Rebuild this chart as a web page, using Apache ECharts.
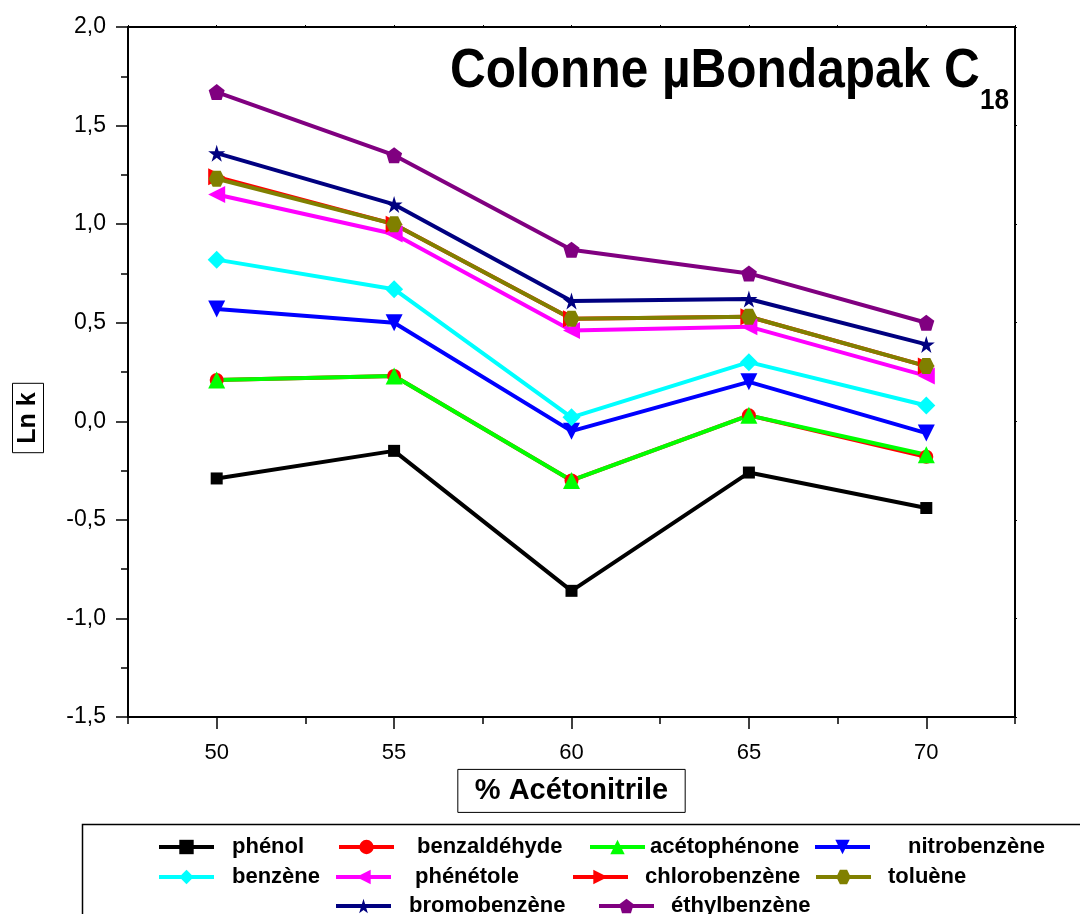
<!DOCTYPE html>
<html>
<head>
<meta charset="utf-8">
<script src="https://cdn.jsdelivr.net/npm/echarts@6/dist/echarts.min.js"></script>
<style>
  html, body { margin: 0; padding: 0; background: #fff; }
  #chart { width: 1080px; height: 914px; }
</style>
</head>
<body>
<div id="chart"></div>
<script>
const xValues = [50, 55, 60, 65, 70];

const phenol = [-0.29, -0.15, -0.86, -0.26, -0.44];
const benzaldehyde = [0.21, 0.23, -0.30, 0.03, -0.18];
const acetophenone = [0.21, 0.23, -0.30, 0.03, -0.17];
const nitrobenzene = [0.57, 0.50, -0.05, 0.20, -0.06];
const benzene = [0.82, 0.67, 0.02, 0.30, 0.08];
const phenetole = [1.15, 0.95, 0.46, 0.48, 0.23];
const chlorobenzene = [1.24, 1.00, 0.52, 0.53, 0.28];
const toluene = [1.23, 1.00, 0.52, 0.53, 0.28];
const bromobenzene = [1.36, 1.10, 0.61, 0.62, 0.39];
const ethylbenzene = [1.67, 1.35, 0.87, 0.75, 0.50];

const FONT = '"Liberation Sans", Arial, sans-serif';
const STAR = 'path://M50,0 L61,35 L98,35 L68,57 L79,91 L50,70 L21,91 L32,57 L2,35 L39,35 Z';
const PENTA = 'path://M50,0 L100,38 L81,100 L19,100 L0,38 Z';
const HEXA = 'path://M25,0 L75,0 L100,50 L75,100 L25,100 L0,50 Z';

// legend: lx = icon start, tx = text start, ly = row centre
const seriesDefs = [
  { name: 'phénol', data: phenol, color: '#000000', symbol: 'rect', size: 12, rotate: 0, lx: 157, tx: 230, ly: 845 },
  { name: 'benzaldéhyde', data: benzaldehyde, color: '#ff0000', symbol: 'circle', size: 14, rotate: 0, lx: 337, tx: 415, ly: 845 },
  { name: 'acétophénone', data: acetophenone, color: '#00ff00', symbol: 'triangle', size: 17, rotate: 0, lx: 588, tx: 647, ly: 845 },
  { name: 'nitrobenzène', data: nitrobenzene, color: '#0000ff', symbol: 'triangle', size: 17, rotate: 180, lx: 813, tx: 906, ly: 845 },
  { name: 'benzène', data: benzene, color: '#00ffff', symbol: 'diamond', size: 18, rotate: 0, lx: 157, tx: 230, ly: 875 },
  { name: 'phénétole', data: phenetole, color: '#ff00ff', symbol: 'triangle', size: 17, rotate: 90, lx: 334, tx: 413, ly: 875 },
  { name: 'chlorobenzène', data: chlorobenzene, color: '#ff0000', symbol: 'triangle', size: 17, rotate: -90, lx: 571, tx: 643, ly: 875 },
  { name: 'toluène', data: toluene, color: '#808000', symbol: HEXA, size: 16, rotate: 0, lx: 814, tx: 886, ly: 875 },
  { name: 'bromobenzène', data: bromobenzene, color: '#000080', symbol: STAR, size: 17, rotate: 0, lx: 334, tx: 407, ly: 904 },
  { name: 'éthylbenzène', data: ethylbenzene, color: '#800080', symbol: PENTA, size: 16, rotate: 0, lx: 597, tx: 669, ly: 904 }
];

const chart = echarts.init(document.getElementById('chart'), null, { renderer: 'canvas' });

const fmt = v => v.toFixed(1).replace('.', ',');
const ICON_W = 55;
const ICON_H = 18;

const option = {
  animation: false,
  backgroundColor: '#fff',
  grid: { left: 128, top: 27, right: 65, bottom: 197, containLabel: false, outerBoundsMode: 'none' },
  legend: seriesDefs.map(s => ({
    data: [s.name],
    left: s.lx,
    top: s.ly - ICON_H / 2,
    itemWidth: ICON_W,
    itemHeight: ICON_H,
    itemGap: 0,
    padding: 0,
    selectedMode: false,
    lineStyle: { width: 4 },
    textStyle: {
      fontFamily: FONT, fontWeight: 'bold', fontSize: 22, color: '#000',
      padding: [0, 0, 0, Math.max(0, s.tx - s.lx - ICON_W - 5)]
    }
  })),
  xAxis: [
    {
      type: 'value', min: 47.5, max: 72.5,
      name: '% Acétonitrile', nameLocation: 'middle', nameGap: 43,
      nameTextStyle: {
        fontFamily: FONT, fontWeight: 'bold', fontSize: 29, color: '#000',
        borderColor: '#000', borderWidth: 1, padding: [7, 17, 7, 17]
      },
      axisLine: { onZero: false, lineStyle: { color: '#000', width: 2 } },
      axisTick: { customValues: xValues, length: 12, lineStyle: { color: '#000', width: 1.5 } },
      axisLabel: { customValues: xValues, fontFamily: FONT, fontSize: 22, color: '#000', margin: 25 },
      splitLine: { show: false }
    },
    {
      type: 'value', min: 47.5, max: 72.5, interval: 2.5, position: 'bottom',
      axisLine: { show: false, onZero: false },
      axisTick: { length: 7, lineStyle: { color: '#000', width: 1.5 } },
      axisLabel: { show: false },
      splitLine: { show: false }
    },
    {
      type: 'value', min: 47.5, max: 72.5, interval: 2.5, position: 'top',
      axisLine: { onZero: false, lineStyle: { color: '#000', width: 2 } },
      axisTick: { length: 2, lineStyle: { color: '#000' } },
      axisLabel: { show: false },
      splitLine: { show: false }
    }
  ],
  yAxis: [
    {
      type: 'value', min: -1.5, max: 2, interval: 0.5,
      axisLine: { onZero: false, lineStyle: { color: '#000', width: 2 } },
      axisTick: { length: 12, lineStyle: { color: '#000', width: 1.5 } },
      minorTick: { show: true, splitNumber: 2, length: 7, lineStyle: { color: '#000', width: 1.5 } },
      axisLabel: { formatter: fmt, fontFamily: FONT, fontSize: 23, color: '#000', margin: 22 },
      splitLine: { show: false }
    },
    {
      type: 'value', min: -1.5, max: 2, interval: 0.5, position: 'right',
      axisLine: { show: true, onZero: false, lineStyle: { color: '#000', width: 2 } },
      axisTick: { show: true, length: 2, lineStyle: { color: '#000' } },
      axisLabel: { show: false },
      splitLine: { show: false }
    }
  ],
  graphic: [
    {
      type: 'text', x: 450, y: 44, scaleX: 0.885, z: 10,
      style: { text: 'Colonne µBondapak C', font: 'bold 56px ' + FONT, fill: '#000' }
    },
    {
      type: 'text', x: 980, y: 86, scaleX: 0.9, z: 10,
      style: { text: '18', font: 'bold 29px ' + FONT, fill: '#000' }
    },
    {
      type: 'text', x: 28, y: 418, rotation: Math.PI / 2, z: 10,
      style: {
        text: 'Ln k', font: 'bold 25px ' + FONT, fill: '#000',
        align: 'center', verticalAlign: 'middle',
        borderColor: '#000', borderWidth: 1, padding: [3, 9, 3, 9]
      }
    },
    {
      type: 'rect', left: 80, top: 822, z: -1,
      shape: { width: 1010, height: 110 },
      style: { fill: 'none', stroke: '#000', lineWidth: 1.5 }
    }
  ],
  series: seriesDefs.map(s => ({
    name: s.name,
    type: 'line',
    data: xValues.map((x, i) => [x, s.data[i]]),
    symbol: s.symbol,
    symbolSize: s.size,
    symbolRotate: s.rotate,
    showAllSymbol: true,
    itemStyle: { color: s.color, opacity: 1 },
    lineStyle: { color: s.color, width: 4 },
    emphasis: { disabled: true }
  }))
};

chart.setOption(option);
</script>
</body>
</html>
